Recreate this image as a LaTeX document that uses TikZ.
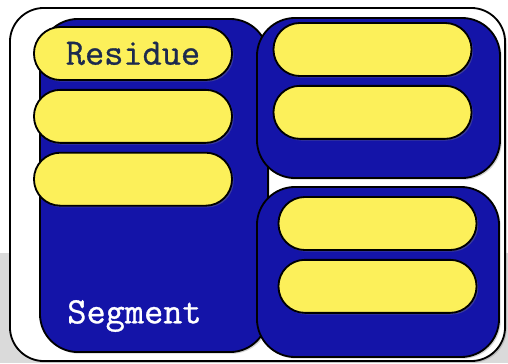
\documentclass[tikz,border=0pt]{standalone}
\usepackage{fontspec}
\newfontfamily\labelfont[FakeBold=0.8]{Latin Modern Mono}
\usetikzlibrary{positioning,shadows}
\definecolor{segblue}{RGB}{20,20,168}
\definecolor{resyellow}{RGB}{252,240,90}
\definecolor{resink}{RGB}{28,42,78}
\definecolor{backgray}{RGB}{218,218,218}

\begin{document}
\begin{tikzpicture}[x=0.025cm, y=-0.025cm, node distance=0.2cm,
    every node/.style={font=\labelfont\fontsize{26.5}{26.5}\selectfont, inner sep=0pt},
    shade/.style={drop shadow={opacity=0.35, shadow xshift=1.2pt, shadow yshift=-1.2pt}},
    frame/.style={draw, line width=1.3pt, fill=white, rounded corners=0.85cm, shade},
    segbox/.style={draw, line width=1.3pt, fill=segblue, rounded corners=0.95cm, shade},
    pill/.style={draw, line width=1.3pt, fill=resyellow, rounded corners=0.66cm,
        minimum width=4.95cm, minimum height=1.325cm, text=resink, shade}]
    \useasboundingbox (0,0) rectangle (508,363);
    \fill[backgray] (0,253) rectangle (508,363);
    \node[frame, minimum width=12.375cm, minimum height=8.825cm] (frame) at (257.5,184.5) {};
    % segments
    \node[segbox, minimum width=5.7cm, minimum height=8.325cm] (seg0) at (154,185.5) {};
    \node[segbox, minimum width=6.075cm, minimum height=4cm] (seg1) at (378.5,98) {};
    \node[segbox, minimum width=6.05cm, minimum height=4.25cm] (seg2) at (378,272) {};
    \node[text=white] (seglabel) at (134.5,316) {Segment};
    % residues
    \node[pill] (r0) at (133,53.5) {Residue};
    \node[pill, below=of r0] (r1) {};
    \node[pill, below=of r1] (r2) {};
    \node[pill] (r3) at (372.5,49.5) {};
    \node[pill, below=of r3] (r4) {};
    \node[pill] (r5) at (377.5,223.5) {};
    \node[pill, below=of r5] (r6) {};
\end{tikzpicture}
\end{document}
